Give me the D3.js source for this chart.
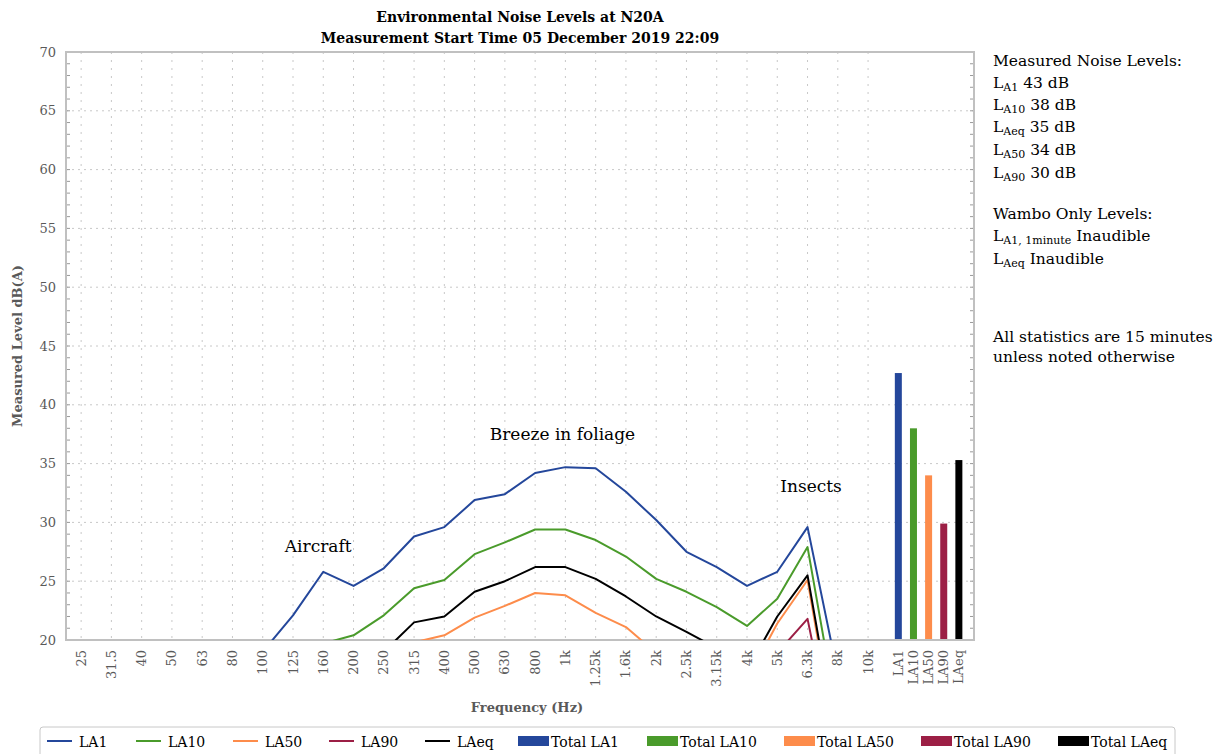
<!DOCTYPE html>
<html>
<head>
<meta charset="utf-8">
<script src="https://cdn.jsdelivr.net/npm/d3@7"></script>
<style>
  body { margin: 0; background: #fff; }
  svg { display: block; font-family: "DejaVu Serif", serif; }
</style>
</head>
<body>
<svg id="chart" width="1219" height="754"></svg>
<script>
// ---------- data ----------
const freqs = ["25","31.5","40","50","63","80","100","125","160","200","250","315","400","500","630","800","1k","1.25k","1.6k","2k","2.5k","3.15k","4k","5k","6.3k","8k","10k"];
const la1  = [null,null,null,null,null,null,19.0,22.1,25.8,24.6,26.1,28.8,29.6,31.9,32.4,34.2,34.7,34.6,32.6,30.2,27.5,26.2,24.6,25.8,29.6,17.1,null];
const la10 = [null,null,null,null,null,null,null,null,19.7,20.4,22.1,24.4,25.1,27.3,28.3,29.4,29.4,28.5,27.1,25.2,24.1,22.8,21.2,23.5,27.9,13.3,null];
const la50 = [null,null,null,null,null,null,null,null,null,null,null,19.8,20.4,21.9,22.9,24.0,23.8,22.3,21.1,18.9,null,null,16.6,21.4,25.1,10.2,null];
const la90 = [null,null,null,null,null,null,null,null,null,null,null,null,null,null,null,null,null,null,null,null,null,null,null,18.9,21.8,9.2,null];
const laeq = [null,null,null,null,null,null,null,null,null,null,19.0,21.5,22.0,24.1,25.0,26.2,26.2,25.2,23.7,22.0,20.7,19.3,17.4,22.0,25.5,10.9,null];
const totalLabels = ["LA1","LA10","LA50","LA90","LAeq"];
const totalValues = [42.7, 38.0, 34.0, 29.9, 35.3];
const yTicks = [20,25,30,35,40,45,50,55,60,65,70];

const seriesNames = ["LA1","LA10","LA50","LA90","LAeq"];
const seriesData = [la1, la10, la50, la90, laeq];
const colors = ["#24479b","#4a9b2b","#fd8c4b","#9c1f45","#000000"];

const annotations = [
  {text: "Aircraft", cat: 6.73, val: 27.5},
  {text: "Breeze in foliage", cat: 13.5, val: 37.0},
  {text: "Insects", cat: 23.1, val: 32.6}
];

// ---------- layout ----------
const svg = d3.select("#chart");
const L = 66, R = 974, T = 52, B = 640;
const x = d3.scaleLinear().domain([-0.5, 29.5]).range([L, R]);
const y = d3.scaleLinear().domain([20, 70]).range([B, T]);
const totalPos = i => 27 + i * 0.5;
const grey = "#595959";

// clip
svg.append("defs").append("clipPath").attr("id","clip")
  .append("rect").attr("x", L).attr("y", T).attr("width", R - L).attr("height", B - T);

// grid: horizontal at major ticks
svg.append("g").selectAll("line").data(yTicks.slice(1)).join("line")
  .attr("x1", L).attr("x2", R).attr("y1", d => y(d)).attr("y2", d => y(d))
  .attr("stroke", "#c8c8c8").attr("stroke-width", 1).attr("stroke-dasharray", "2,4");
// grid: vertical at frequency categories
svg.append("g").selectAll("line").data(freqs).join("line")
  .attr("x1", (d,i) => x(i)).attr("x2", (d,i) => x(i)).attr("y1", T).attr("y2", B)
  .attr("stroke", "#c8c8c8").attr("stroke-width", 1).attr("stroke-dasharray", "2,6");

// minor ticks (inside) on left and right axes
const minor = d3.range(21, 70);
svg.append("g").selectAll("line").data(minor).join("line")
  .attr("x1", L).attr("x2", L + 4).attr("y1", d => y(d)).attr("y2", d => y(d))
  .attr("stroke", "#9a9a9a").attr("stroke-width", 1);
svg.append("g").selectAll("line").data(minor).join("line")
  .attr("x1", R - 4).attr("x2", R).attr("y1", d => y(d)).attr("y2", d => y(d))
  .attr("stroke", "#9a9a9a").attr("stroke-width", 1);

// frame
svg.append("rect").attr("x", L).attr("y", T).attr("width", R - L).attr("height", B - T)
  .attr("fill", "none").attr("stroke", "#c0c0c0").attr("stroke-width", 2);

// y tick labels
svg.append("g").selectAll("text").data(yTicks).join("text")
  .attr("x", L - 10).attr("y", d => y(d)).attr("dy", "0.35em")
  .attr("text-anchor", "end").attr("fill", grey).attr("font-size", 13)
  .text(d => d);

// x tick labels
const xl = svg.append("g");
xl.selectAll("text.f").data(freqs).join("text").attr("class","f")
  .attr("transform", (d,i) => `translate(${x(i)},650) rotate(-90)`)
  .attr("dy", "0.35em").attr("text-anchor", "end").attr("fill", grey).attr("font-size", 13)
  .text(d => d);
xl.selectAll("text.t").data(totalLabels).join("text").attr("class","t")
  .attr("transform", (d,i) => `translate(${x(totalPos(i))},650) rotate(-90)`)
  .attr("dy", "0.35em").attr("text-anchor", "end").attr("fill", grey).attr("font-size", 13)
  .text(d => d);

// axis titles
svg.append("text").attr("transform", `translate(22,${(T+B)/2}) rotate(-90)`)
  .attr("text-anchor", "middle").attr("font-weight", "bold").attr("font-size", 13)
  .attr("fill", grey).text("Measured Level dB(A)");
svg.append("text").attr("x", (L+R)/2 + 7).attr("y", 712)
  .attr("text-anchor", "middle").attr("font-weight", "bold").attr("font-size", 13)
  .attr("fill", grey).text("Frequency (Hz)");

// title
svg.append("text").attr("x", (L+R)/2).attr("y", 22).attr("text-anchor", "middle")
  .attr("font-weight", "bold").attr("font-size", 14).text("Environmental Noise Levels at N20A");
svg.append("text").attr("x", (L+R)/2).attr("y", 43).attr("text-anchor", "middle")
  .attr("font-weight", "bold").attr("font-size", 14).text("Measurement Start Time 05 December 2019 22:09");

// lines
const line = d3.line().defined(d => d != null).x((d,i) => x(i)).y(d => y(d));
const lg = svg.append("g").attr("clip-path", "url(#clip)");
seriesData.forEach((s, k) => {
  lg.append("path").datum(s).attr("d", line)
    .attr("fill", "none").attr("stroke", colors[k]).attr("stroke-width", 2)
    .attr("stroke-linejoin", "round");
});

// total bars
const bw = 7;
svg.append("g").selectAll("rect").data(totalValues).join("rect")
  .attr("x", (d,i) => x(totalPos(i)) - bw/2).attr("width", bw)
  .attr("y", d => y(d)).attr("height", d => y(20) - y(d) - 1)
  .attr("fill", (d,i) => colors[i]);

// annotations
svg.append("g").selectAll("text").data(annotations).join("text")
  .attr("x", d => x(d.cat)).attr("y", d => y(d.val))
  .attr("font-size", 17).attr("fill", "#000").text(d => d.text);

// right-hand notes
const notes = svg.append("g").attr("font-size", 15.5).attr("fill", "#000");
function noteLine(yy, parts) {
  const t = notes.append("text").attr("x", 993).attr("y", yy);
  parts.forEach(p => {
    const ts = t.append("tspan").text(p.t);
    if (p.sub) { ts.attr("font-size", p.size || 11).attr("dy", 3); }
    else if (p.back) { ts.attr("dy", -3); }
  });
}
noteLine(66, [{t: "Measured Noise Levels:"}]);
noteLine(88, [{t: "L"}, {t: "A1", sub: true}, {t: " 43 dB", back: true}]);
noteLine(110, [{t: "L"}, {t: "A10", sub: true}, {t: " 38 dB", back: true}]);
noteLine(132, [{t: "L"}, {t: "Aeq", sub: true}, {t: " 35 dB", back: true}]);
noteLine(155, [{t: "L"}, {t: "A50", sub: true}, {t: " 34 dB", back: true}]);
noteLine(178, [{t: "L"}, {t: "A90", sub: true}, {t: " 30 dB", back: true}]);
noteLine(219, [{t: "Wambo Only Levels:"}]);
noteLine(241, [{t: "L"}, {t: "A1, 1minute", sub: true}, {t: " Inaudible", back: true}]);
noteLine(264, [{t: "L"}, {t: "Aeq", sub: true}, {t: " Inaudible", back: true}]);
noteLine(342, [{t: "All statistics are 15 minutes"}]);
noteLine(362, [{t: "unless noted otherwise"}]);

// legend
const leg = svg.append("g");
leg.append("rect").attr("x", 40).attr("y", 727).attr("width", 1135).attr("height", 40)
  .attr("rx", 3).attr("fill", "#fff").attr("stroke", "#c8c8c8").attr("stroke-width", 1);
const lineItemX = [47, 136, 233, 329, 425];
seriesNames.forEach((n, k) => {
  leg.append("line").attr("x1", lineItemX[k]).attr("x2", lineItemX[k] + 25)
    .attr("y1", 741).attr("y2", 741).attr("stroke", colors[k]).attr("stroke-width", 2);
  leg.append("text").attr("x", lineItemX[k] + 32).attr("y", 747).attr("font-size", 14)
    .attr("fill", "#000").text(n);
});
const rectItemX = [518, 647, 784, 921, 1058];
totalLabels.forEach((n, k) => {
  leg.append("rect").attr("x", rectItemX[k]).attr("y", 736).attr("width", 31).attr("height", 10)
    .attr("fill", colors[k]);
  leg.append("text").attr("x", rectItemX[k] + 33).attr("y", 747).attr("font-size", 14)
    .attr("fill", "#000").text("Total " + n);
});
</script>
</body>
</html>
